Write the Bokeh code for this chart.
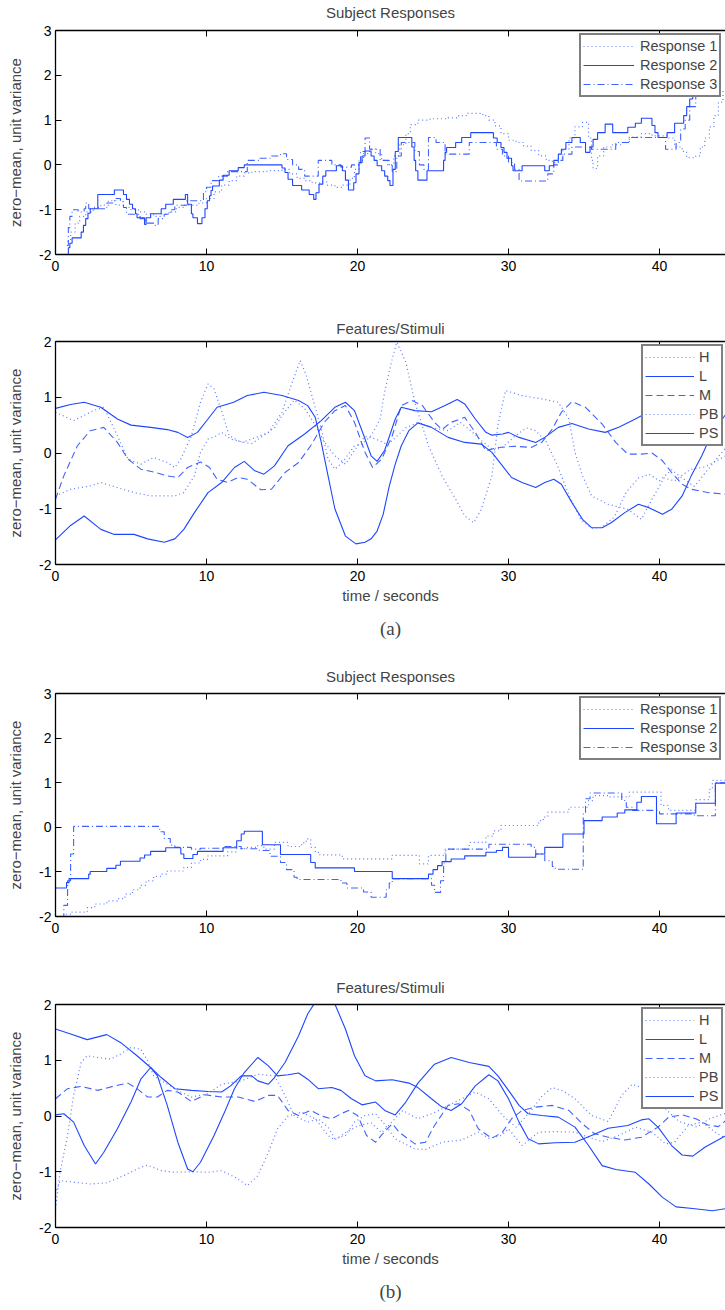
from bokeh.plotting import figure
from bokeh.models import (Range1d, LinearAxis, FixedTicker, Legend, LegendItem, Title,
                          CustomJSTickFormatter)
from bokeh.layouts import column
from bokeh.embed import file_html
from bokeh.resources import INLINE

# ---------------- data: (a) Subject Responses ----------------
a_resp1_t = [0.8, 1.0, 1.3, 1.6, 2.0, 2.5, 3.0, 3.5, 4.0, 4.5, 5.0, 5.5, 6.0, 6.5, 7.0, 7.5, 8.0, 8.5, 9.0, 9.5,
             10.0, 10.5, 11.0, 11.5, 12.0, 12.5, 13.0, 14.0, 15.0, 15.5, 16.0, 16.5, 17.0, 17.5, 18.0, 18.5, 19.0,
             19.5, 19.8, 20.1, 20.4, 20.8, 21.2, 21.6, 22.0, 22.4, 22.8, 23.2, 23.5, 24.0, 24.8, 26.0, 26.7, 27.2,
             28.3, 28.7, 29.1, 29.5, 30.0, 30.5, 31.0, 31.5, 32.0, 32.5, 32.9, 33.3, 33.6, 34.0, 34.4, 34.9, 35.3,
             35.5, 35.6, 35.9, 36.3, 36.8, 37.5, 38.0, 38.8, 39.5, 40.5, 41.0, 41.5, 41.8, 42.4, 42.7, 43.0, 43.3,
             43.6, 43.9, 44.2]
a_resp1_y = [-1.7, -1.5, -1.3, -1.15, -1.05, -0.95, -0.9, -0.8, -0.9, -0.95, -1.0, -1.05, -1.1, -1.15, -1.1, -1.05,
             -0.95, -0.9, -0.9, -0.85, -0.75, -0.6, -0.45, -0.35, -0.25, -0.18, -0.15, -0.13, -0.1, -0.2, -0.3,
             -0.35, -0.4, -0.38, -0.45, -0.5, -0.45, -0.3, -0.1, 0.1, 0.25, 0.35, 0.25, 0.1, 0.0, 0.2, 0.45, 0.7,
             0.9, 1.0, 1.03, 1.05, 1.1, 1.15, 1.1, 1.0, 0.87, 0.7, 0.55, 0.5, 0.42, 0.32, 0.2, 0.1, 0.05, 0.15,
             0.35, 0.6, 0.85, 0.95, 0.6, 0.1, -0.08, 0.2, 0.4, 0.45, 0.5, 0.62, 0.7, 0.65, 0.6, 0.4, 0.3, 0.16,
             0.2, 0.4, 0.6, 0.85, 1.1, 1.4, 1.65]

a_resp2_t = [0.75, 0.85, 0.95, 1.1, 1.7, 1.85, 2.0, 2.15, 2.3, 2.8, 3.9, 4.5, 4.7, 4.9, 5.1, 5.3, 5.4, 5.9, 6.0,
             6.3, 7.0, 7.3, 7.8, 8.6, 8.75, 9.0, 9.1, 9.4, 9.7, 9.9, 10.05, 10.2, 10.3, 10.4, 10.85, 11.1, 11.5,
             12.1, 12.5, 15.0, 15.2, 15.4, 15.7, 16.3, 16.8, 17.1, 17.25, 17.45, 17.7, 17.9, 18.6, 19.0, 19.2,
             19.4, 19.75, 19.9, 20.1, 20.3, 20.5, 20.9, 21.1, 21.3, 21.6, 21.8, 22.0, 22.15, 22.35, 22.5, 22.7,
             23.6, 23.75, 23.85, 24.0, 24.6, 25.7, 25.8, 25.9, 26.5, 26.9, 27.5, 29.0, 29.25, 29.5, 29.7, 29.9,
             30.2, 30.3, 30.9, 32.4, 32.7, 33.0, 33.3, 33.5, 33.8, 34.2, 34.75, 35.1, 35.4, 35.6, 35.9, 36.4,
             36.9, 37.9, 38.4, 38.8, 39.5, 39.7, 39.9, 40.5, 41.0, 41.6, 41.8, 42.0, 42.2, 42.4, 42.6, 42.9]
a_resp2_y = [-2.0, -1.85, -1.75, -1.63, -1.5, -1.35, -1.2, -1.08, -0.98, -0.66, -0.56, -0.66, -0.77, -0.88, -0.98,
             -1.09, -1.18, -1.33, -1.18, -1.09, -0.98, -0.88, -0.77, -0.66, -0.88, -1.09, -1.18, -1.31, -1.18,
             -0.98, -0.8, -0.69, -0.57, -0.47, -0.34, -0.23, -0.13, -0.06, 0.0, -0.07, -0.17, -0.32, -0.46, -0.56,
             -0.66, -0.77, -0.62, -0.43, -0.25, -0.13, -0.02, -0.13, -0.34, -0.56, -0.4, -0.2, 0.05, 0.2, 0.31,
             0.2, 0.1, -0.02, -0.13, -0.25, -0.35, -0.46, -0.1, 0.3, 0.61, 0.4, 0.1, -0.13, -0.34, -0.13, 0.1,
             0.28, 0.39, 0.5, 0.61, 0.72, 0.6, 0.5, 0.39, 0.28, 0.15, -0.02, -0.13, -0.02, -0.13, -0.02, 0.1,
             0.24, 0.35, 0.5, 0.61, 0.5, 0.28, 0.4, 0.57, 0.72, 0.91, 0.72, 0.84, 0.93, 1.04, 0.88, 0.72, 0.61,
             0.72, 0.93, 1.1, 1.3, 1.47, 1.6, 1.75, 1.9, 1.9]

a_resp3_t = [0.75, 0.85, 0.95, 1.1, 1.5, 1.9, 2.0, 2.2, 3.4, 3.9, 4.3, 4.5, 4.7, 5.6, 6.0, 6.6, 6.8, 7.2, 7.6,
             7.9, 8.7, 9.8, 10.0, 10.3, 10.8, 11.4, 12.7, 13.5, 14.3, 14.9, 15.3, 15.7, 16.1, 16.5, 17.4, 18.3,
             18.9, 19.6, 20.2, 20.5, 20.8, 21.5, 22.1, 22.3, 22.6, 22.9, 23.8, 24.1, 24.4, 24.7, 25.2, 25.8,
             27.4, 29.2, 29.6, 30.0, 30.4, 30.7, 32.6, 33.0, 33.3, 33.6, 34.2, 35.5, 37.1, 38.0, 40.4, 41.1,
             41.4, 41.7, 42.0, 42.4, 42.8]
a_resp3_y = [-1.8, -1.4, -1.15, -1.0, -1.05, -0.98, -0.85, -0.98, -0.85, -0.75, -0.82, -0.95, -1.1, -1.2, -1.3,
             -1.35, -1.2, -1.1, -1.0, -0.9, -0.8, -0.6, -0.5, -0.35, -0.25, -0.15, 0.1, 0.15, 0.2, 0.25, 0.12,
             0.0, -0.1, -0.25, 0.1, 0.0, -0.05, 0.0, 0.3, 0.6, 0.35, 0.1, 0.0, -0.15, 0.2, 0.5, 0.3, 0.0, -0.1,
             0.61, 0.5, 0.24, 0.5, 0.35, 0.2, 0.05, -0.1, -0.36, -0.2, 0.0, 0.1, 0.24, 0.4, 0.35, 0.5, 0.61, 0.35,
             0.5, 0.8, 1.0, 1.3, 1.6, 1.9]

# ---------------- data: (a) Features/Stimuli ----------------
a_L_t = [0, 1.0, 1.9, 3.0, 4.1, 5.0, 6.3, 7.4, 8.1, 8.75, 9.4, 10.1, 10.7, 11.8, 12.7, 13.8, 15.0, 16.1, 16.7,
         17.2, 17.6, 18.05, 18.5, 19.2, 19.9, 20.5, 20.9, 21.3, 21.7, 22.1, 22.5, 22.9, 23.4, 24.0, 24.9, 26.0,
         27.1, 28.2, 28.9, 29.6, 30.2, 30.9, 31.8, 32.4, 33.0, 33.5, 34.2, 34.9, 35.5, 36.2, 36.8, 37.7, 38.6,
         39.3, 40.2, 40.8, 41.5, 42.1, 42.8, 43.2, 43.7, 44.4]
a_L_y = [0.8, 0.87, 0.91, 0.82, 0.61, 0.5, 0.46, 0.42, 0.37, 0.28, 0.37, 0.61, 0.82, 0.91, 1.03, 1.09, 1.03, 0.94,
         0.85, 0.64, 0.19, -0.41, -1.0, -1.49, -1.63, -1.6, -1.54, -1.4, -1.1, -0.6, -0.2, 0.13, 0.4, 0.54, 0.46,
         0.28, 0.19, 0.16, 0.01, -0.23, -0.44, -0.53, -0.62, -0.53, -0.47, -0.56, -0.89, -1.19, -1.34, -1.34,
         -1.25, -1.07, -0.92, -0.98, -1.1, -1.01, -0.77, -0.41, -0.05, 0.19, 0.43, 0.7]

a_PS_t = [0, 1.0, 1.9, 3.0, 3.9, 5.2, 6.1, 7.2, 7.9, 8.5, 9.2, 10.1, 11.0, 11.85, 12.5, 13.2, 13.8, 14.5, 15.4,
          16.5, 17.6, 18.5, 19.2, 19.8, 20.5, 20.9, 21.3, 21.8, 22.5, 22.9, 23.8, 24.9, 25.8, 26.6, 27.1, 27.8,
          28.5, 28.9, 29.6, 30.0, 30.7, 31.8, 32.4, 33.3, 34.2, 35.3, 36.4, 37.3, 38.4, 38.8, 39.5, 40.5]
a_PS_y = [-1.56, -1.3, -1.13, -1.37, -1.46, -1.46, -1.54, -1.6, -1.54, -1.37, -1.07, -0.71, -0.53, -0.26, -0.15,
          -0.32, -0.38, -0.23, 0.13, 0.34, 0.58, 0.82, 0.91, 0.76, 0.25, -0.05, -0.15, 0.05, 0.61, 0.82, 0.76,
          0.74, 0.85, 0.96, 0.88, 0.61, 0.37, 0.32, 0.34, 0.37, 0.28, 0.19, 0.28, 0.46, 0.53, 0.43, 0.37, 0.46,
          0.61, 0.67, 0.7, 0.7]

a_M_t = [0, 0.55, 1.45, 2.3, 3.2, 4.1, 4.8, 5.65, 6.5, 7.4, 8.1, 8.75, 9.6, 10.2, 10.7, 11.4, 12.1, 12.7, 13.6,
         14.3, 15.2, 16.1, 16.9, 17.8, 18.5, 19.2, 19.8, 20.5, 21.0, 21.6, 22.3, 22.9, 23.6, 24.3, 25.1, 25.6,
         26.2, 27.1, 27.8, 28.5, 29.3, 30.4, 31.5, 32.2, 32.9, 33.5, 34.2, 35.1, 36.2, 37.1, 37.9, 38.8, 39.5,
         40.2, 40.8, 41.5, 42.1, 43.2, 44.4]
a_M_y = [-0.83, -0.41, 0.13, 0.4, 0.46, 0.19, -0.11, -0.29, -0.34, -0.41, -0.44, -0.26, -0.16, -0.26, -0.47, -0.53,
         -0.44, -0.47, -0.66, -0.65, -0.35, -0.17, 0.13, 0.55, 0.76, 0.85, 0.55, 0.01, -0.26, -0.11, 0.31, 0.85,
         0.94, 0.85, 0.55, 0.42, 0.55, 0.64, 0.37, 0.04, 0.1, 0.12, 0.1, 0.19, 0.43, 0.73, 0.92, 0.82, 0.52,
         0.19, -0.02, -0.02, 0.0, -0.14, -0.35, -0.56, -0.65, -0.71, -0.74]

a_H_t = [0, 1.2, 2.5, 3.2, 4.1, 4.8, 5.65, 6.5, 7.4, 7.9, 8.3, 9.0, 9.6, 10.1, 10.5, 11.1, 11.5, 12.3, 13.0, 14.1,
         15.0, 15.6, 16.2, 16.6, 17.1, 17.6, 18.05, 18.5, 19.0, 19.8, 20.3, 20.9, 21.5, 21.8, 22.3, 22.6, 23.2,
         23.8, 24.7, 25.6, 26.5, 27.1, 27.7, 28.2, 28.9, 29.3, 29.8, 30.9, 32.2, 33.3, 34.0, 34.4, 34.9, 35.5,
         36.6, 37.9, 38.8, 39.5, 40.3, 41.0, 42.0, 43.0, 44.4]
a_H_y = [0.73, 0.58, 0.76, 0.82, 0.31, -0.11, -0.2, -0.08, -0.17, -0.26, -0.11, 0.31, 0.91, 1.24, 1.15, 0.67,
         0.31, 0.19, 0.25, 0.37, 0.73, 1.21, 1.66, 1.4, 0.91, 0.43, -0.11, -0.29, -0.17, 0.13, 0.16, 0.31, 0.61,
         1.1, 1.69, 1.99, 1.63, 0.91, 0.13, -0.41, -0.83, -1.13, -1.25, -1.01, -0.41, 0.5, 1.12, 1.03, 0.97,
         0.91, 0.61, 0.01, -0.41, -0.77, -0.92, -1.01, -1.19, -0.83, -0.45, -0.5, -0.3, -0.25, -0.05]

a_PB_t = [0, 1.0, 2.3, 3.0, 4.1, 5.2, 6.3, 7.9, 8.5, 9.2, 9.6, 10.1, 10.6, 11.0, 11.6, 12.3, 13.0, 13.7, 14.5,
          15.0, 15.8, 16.5, 17.2, 17.8, 18.5, 19.2, 19.8, 20.5, 21.2, 22.0, 22.6, 23.2, 24.0, 25.0, 26.0, 26.8,
          27.5, 28.3, 29.0, 29.6, 30.4, 31.2, 31.8, 32.5, 33.2, 34.0, 34.8, 35.5, 36.2, 37.0, 37.8, 38.6, 39.3,
          40.0, 40.8, 41.5, 42.3, 43.2, 44.4]
a_PB_y = [-0.77, -0.65, -0.59, -0.53, -0.62, -0.71, -0.77, -0.77, -0.71, -0.41, 0.01, 0.25, 0.3, 0.37, 0.25,
          0.2, 0.17, 0.3, 0.45, 0.67, 0.95, 0.8, 0.5, 0.2, -0.05, -0.2, 0.05, 0.3, 0.25, 0.15, 0.3, 0.45, 0.55,
          0.45, 0.4, 0.55, 0.4, 0.2, 0.05, 0.1, 0.3, 0.45, 0.4, 0.2, -0.2, -0.75, -1.2, -1.35, -1.33, -1.15,
          -0.7, -0.45, -0.38, -0.5, -0.3, -0.45, -0.6, -0.3, 0.1]

# ---------------- data: (b) Subject Responses ----------------
b_resp1_t = [0.3, 0.6, 1.0, 2.1, 2.6, 3.4, 4.1, 4.6, 5.1, 5.6, 6.0, 6.5, 7.0, 7.4, 8.5, 9.0, 9.6, 10.1, 11.4,
             12.0, 12.7, 13.4, 13.8, 14.5, 15.4, 16.3, 16.6, 16.9, 17.2, 17.5, 19.0, 22.3, 24.1, 24.7, 25.8, 27.4,
             28.5, 29.0, 29.5, 32.0, 32.3, 32.6, 34.0, 35.3, 35.6, 36.6, 38.0, 40.1, 40.6, 42.4, 43.3, 43.5, 44.4]
b_resp1_y = [-2.0, -1.95, -1.9, -1.8, -1.72, -1.65, -1.6, -1.5, -1.4, -1.3, -1.2, -1.1, -1.05, -0.98, -0.9, -0.8,
             -0.72, -0.64, -0.55, -0.48, -0.45, -0.41, -0.49, -0.34, -0.43, -0.35, -0.26, -0.45, -0.56, -0.62,
             -0.71, -0.63, -0.82, -0.63, -0.49, -0.34, -0.2, -0.08, 0.04, 0.15, 0.23, 0.34, 0.45, 0.6, 0.71, 0.68,
             0.79, 0.49, 0.38, 0.62, 0.85, 1.05, 1.05]

b_resp2_t = [0.0, 0.73, 0.9, 2.2, 2.3, 3.4, 4.0, 4.3, 5.6, 5.9, 6.3, 7.3, 8.3, 8.5, 9.1, 9.4, 11.1, 12.0, 12.3,
             12.5, 13.7, 14.9, 16.9, 17.2, 19.8, 22.3, 24.7, 25.0, 25.3, 25.6, 26.2, 27.1, 28.5, 29.2, 29.6, 30.0,
             31.8, 32.4, 33.6, 35.0, 36.2, 37.2, 37.7, 38.5, 38.8, 39.8, 41.1, 42.4, 43.7, 44.4]
b_resp2_y = [-1.36, -1.24, -1.15, -1.05, -0.99, -0.92, -0.85, -0.76, -0.69, -0.62, -0.54, -0.46, -0.6, -0.7, -0.61,
             -0.54, -0.46, -0.3, -0.15, -0.09, -0.39, -0.61, -0.79, -0.91, -0.99, -1.15, -1.05, -0.95, -0.86, -0.77,
             -0.71, -0.64, -0.56, -0.52, -0.45, -0.67, -0.6, -0.45, -0.15, 0.15, 0.23, 0.32, 0.39, 0.56, 0.69, 0.08,
             0.32, 0.54, 0.99, 0.99]

b_resp3_t = [0.3, 0.55, 0.8, 1.0, 1.2, 6.9, 7.2, 7.6, 7.9, 9.0, 9.6, 11.2, 12.3, 13.5, 14.2, 14.9, 15.3, 15.8,
             16.0, 18.9, 19.3, 20.4, 20.9, 21.9, 22.1, 22.3, 24.9, 25.1, 25.5, 25.7, 25.85, 28.7, 31.5, 31.8, 32.4,
             32.9, 33.1, 34.95, 35.1, 35.4, 37.5, 37.8, 38.2, 40.0, 42.3, 43.7, 44.4]
b_resp3_y = [-2.0, -1.75, -1.2, -0.6, 0.02, -0.1, -0.25, -0.4, -0.45, -0.49, -0.47, -0.43, -0.48, -0.52, -0.65,
             -0.79, -0.95, -1.12, -1.17, -1.25, -1.36, -1.45, -1.57, -1.4, -1.25, -1.15, -1.3, -1.46, -1.2, -0.8,
             -0.49, -0.38, -0.45, -0.6, -0.75, -0.88, -0.94, 0.3, 0.64, 0.77, 0.6, 0.45, 0.38, 0.3, 0.26, 1.0, 1.0]

# ---------------- data: (b) Features/Stimuli ----------------
b_L_t = [0, 1.0, 2.1, 3.4, 4.3, 5.4, 6.3, 7.0, 7.9, 9.0, 10.1, 11.0, 11.6, 12.3, 13.0, 13.4, 14.1, 14.5, 15.2,
         16.1, 16.7, 17.2, 17.8, 18.5, 19.2, 19.8, 20.5, 21.2, 22.3, 23.4, 24.0, 24.9, 25.6, 26.2, 26.9, 27.8,
         28.7, 29.3, 30.0, 30.7, 31.3, 32.0, 33.1, 34.4, 35.5, 36.6, 37.9, 38.8, 39.3, 39.9, 40.8, 41.5, 42.2,
         43.0, 44.4]
b_L_y = [1.56, 1.47, 1.37, 1.46, 1.32, 1.08, 0.87, 0.69, 0.49, 0.46, 0.44, 0.43, 0.54, 0.72, 0.72, 0.63, 0.57,
         0.69, 0.96, 1.44, 1.83, 2.04, 2.12, 2.01, 1.56, 1.08, 0.72, 0.63, 0.65, 0.59, 0.51, 0.31, 0.16, 0.1,
         0.22, 0.54, 0.74, 0.63, 0.31, -0.11, -0.41, -0.5, -0.48, -0.47, -0.35, -0.22, -0.17, -0.07, -0.05,
         -0.2, -0.53, -0.7, -0.72, -0.56, -0.35]

b_PS_t = [0, 0.55, 1.2, 1.9, 2.65, 3.2, 4.1, 5.0, 5.65, 6.3, 6.75, 7.4, 8.1, 8.75, 9.1, 9.6, 10.5, 11.2, 11.85,
          12.5, 13.4, 14.1, 14.7, 15.4, 16.1, 16.7, 17.4, 18.3, 18.9, 19.6, 20.3, 21.2, 21.8, 22.5, 23.2, 24.0,
          25.1, 26.2, 27.4, 28.7, 29.3, 30.0, 30.7, 31.3, 32.2, 33.3, 34.4, 35.3, 36.2, 37.1, 38.4, 39.3, 40.2,
          41.1, 42.2, 43.5, 44.4]
b_PS_y = [0.02, 0.04, -0.11, -0.53, -0.86, -0.65, -0.23, 0.25, 0.66, 0.87, 0.72, 0.19, -0.47, -0.95, -1.0, -0.83,
          -0.35, 0.07, 0.49, 0.78, 1.05, 0.9, 0.72, 0.74, 0.77, 0.66, 0.49, 0.51, 0.46, 0.31, 0.2, 0.25, 0.1, 0.02,
          0.25, 0.59, 0.93, 1.05, 0.96, 0.89, 0.72, 0.46, 0.19, 0.04, 0.01, -0.02, -0.2, -0.53, -0.89, -0.96,
          -1.01, -1.22, -1.46, -1.63, -1.66, -1.7, -1.66]

b_M_t = [0, 0.8, 1.7, 2.8, 3.9, 4.8, 5.4, 6.1, 6.75, 7.4, 8.1, 9.0, 9.9, 11.0, 12.1, 13.2, 14.1, 14.7, 15.4,
         16.1, 16.9, 17.6, 18.3, 18.9, 19.4, 20.0, 20.6, 21.2, 21.6, 22.3, 22.8, 23.8, 24.5, 25.1, 26.0, 26.7,
         27.4, 28.0, 28.9, 29.6, 30.2, 30.9, 31.8, 32.9, 34.0, 34.9, 35.7, 36.6, 37.7, 38.8, 39.9, 40.6, 41.5,
         42.4, 43.2, 43.9, 44.4]
b_M_y = [0.31, 0.49, 0.53, 0.46, 0.54, 0.59, 0.49, 0.34, 0.34, 0.46, 0.43, 0.26, 0.38, 0.34, 0.34, 0.26, 0.37,
         0.37, 0.1, 0.01, 0.1, 0.0, -0.05, 0.04, 0.1, 0.01, -0.35, -0.47, -0.34, -0.14, -0.3, -0.5, -0.47, -0.17,
         0.19, 0.22, 0.1, -0.23, -0.4, -0.29, -0.05, 0.1, 0.16, 0.19, 0.1, -0.14, -0.32, -0.38, -0.43, -0.38,
         -0.2, -0.02, 0.02, -0.05, -0.16, -0.19, -0.08]

b_H_t = [0, 0.3, 0.8, 1.2, 1.7, 2.1, 2.8, 3.65, 4.3, 5.0, 5.65, 6.1, 6.5, 7.2, 8.3, 9.0, 10.1, 11.0, 12.3, 13.4,
         14.5, 15.2, 15.8, 16.7, 17.4, 18.05, 18.5, 19.2, 19.8, 20.5, 21.2, 21.8, 22.5, 23.8, 24.5, 25.6, 26.9,
         28.0, 28.7, 29.5, 30.0, 30.9, 32.0, 33.1, 34.4, 35.3, 36.2, 37.3, 38.4, 39.5, 40.4, 41.0, 41.9, 42.8,
         43.7, 44.4]
b_H_y = [-1.67, -1.01, -0.35, 0.37, 0.96, 1.08, 1.05, 1.02, 1.11, 1.23, 1.2, 0.99, 0.72, 0.6, 0.43, 0.34, 0.4,
         0.57, 0.63, 0.75, 0.72, 0.37, 0.01, -0.11, -0.05, -0.2, -0.41, -0.35, -0.11, 0.01, 0.04, -0.15, -0.41,
         -0.59, -0.6, -0.47, -0.43, -0.29, -0.4, -0.35, -0.23, -0.53, -0.29, -0.28, -0.29, -0.38, -0.46, -0.35,
         -0.2, -0.29, -0.5, -0.47, -0.17, -0.11, -0.29, -0.41]

b_PB_t = [0, 0.3, 2.3, 3.4, 4.5, 5.65, 6.1, 7.0, 7.9, 9.0, 10.1, 11.0, 11.9, 12.7, 13.4, 14.1, 14.7, 15.4, 16.3,
          17.2, 18.05, 18.5, 19.2, 20.0, 20.9, 21.6, 22.3, 23.0, 24.0, 25.0, 25.6, 26.9, 27.8, 28.7, 29.6, 30.5,
          31.5, 32.2, 32.9, 33.6, 34.4, 35.5, 36.6, 37.5, 38.2, 39.0, 39.8, 40.5, 41.3, 42.5, 43.3, 44.4]
b_PB_y = [-1.4, -1.16, -1.22, -1.2, -1.07, -0.92, -0.88, -0.98, -1.01, -1.0, -1.01, -0.98, -1.1, -1.25, -1.07,
          -0.65, -0.23, 0.0, 0.07, -0.05, -0.35, -0.43, -0.3, -0.18, -0.12, -0.3, -0.1, 0.1, -0.05, 0.05, 0.13,
          0.31, 0.43, 0.31, 0.01, -0.2, 0.1, 0.35, 0.51, 0.45, 0.31, 0.01, -0.1, 0.37, 0.57, 0.49, 0.3, 0.1,
          -0.1, -0.2, -0.05, 0.05]

resp_labels = ["Response 1", "Response 2", "Response 3"]
feat_labels = ["H", "L", "M", "PB", "PS"]
x_ticks = [0, 10, 20, 30, 40]

# ---------------- styling ----------------
BLUE = "#1e46ff"
LIGHT = "#5a78ff"
FONT = "Liberation Sans"
X_END = 44.37
DOT = "1 3"
DASHDOT = "7 3 1 3"
DASH = "7 4"


def make_fig(height, top, bottom, y0, y1, title, title_standoff, spacer):
    p = figure(width=725, height=height, x_range=Range1d(0, X_END), y_range=Range1d(y0, y1),
               output_backend="svg", toolbar_location=None, x_axis_location=None, y_axis_location=None,
               min_border_left=55, min_border_right=0, min_border_top=top, min_border_bottom=bottom,
               title=title)
    p.center = []
    p.outline_line_color = None
    p.background_fill_color = "white"
    p.border_fill_color = "white"
    p.title.align = "center"
    p.title.vertical_align = "top"
    p.title.text_font = FONT
    p.title.text_font_size = "15px"
    p.title.text_font_style = "normal"
    p.title.offset = 3
    p.title.standoff = title_standoff

    fmt = CustomJSTickFormatter(code="return tick.toFixed(0);")
    common = dict(axis_line_color="black", axis_line_width=1.3, major_tick_line_color="black",
                  major_tick_line_width=1.0, major_tick_in=6, major_tick_out=0, minor_tick_line_color=None,
                  major_label_text_font=FONT, formatter=fmt)
    left = LinearAxis(ticker=FixedTicker(ticks=list(range(y0, y1 + 1))), axis_label="zero\u2212mean, unit variance",
                      axis_label_text_font=FONT, axis_label_text_font_size="15px",
                      axis_label_text_font_style="normal", axis_label_standoff=12,
                      major_label_standoff=4, major_label_text_font_size="14px",
                      major_label_text_color="black", **common)
    p.add_layout(left, "left")
    below = LinearAxis(ticker=FixedTicker(ticks=x_ticks), major_label_standoff=6,
                       major_label_text_font_size="14px", major_label_text_color="black",
                       axis_label_text_font=FONT, axis_label_text_font_size="15px",
                       axis_label_text_font_style="normal", axis_label_standoff=3, **common)
    p.add_layout(below, "below")
    # top border of the box, with inward ticks (labels hidden)
    above = LinearAxis(ticker=FixedTicker(ticks=x_ticks), major_label_text_font_size="1px",
                       major_label_text_color=None, major_label_standoff=0, **common)
    p.add_layout(above, "above")
    if spacer > 0:
        # invisible axis that only reserves room between the box and the title
        gap = LinearAxis(ticker=FixedTicker(ticks=x_ticks), axis_line_color=None, major_tick_line_color=None,
                         minor_tick_line_color=None, major_tick_in=0, major_tick_out=spacer,
                         major_label_text_color=None, major_label_text_font_size="1px",
                         major_label_standoff=0, formatter=fmt)
        p.add_layout(gap, "above")
    return p, below


def add_legend(p, items, loc, gw, standoff):
    leg = Legend(items=items, location=loc, label_text_font=FONT, label_text_font_size="14.5px",
                 label_height=18, glyph_height=18, glyph_width=gw, spacing=1, padding=2, margin=0,
                 label_standoff=standoff, border_line_color="black", border_line_width=2,
                 background_fill_color="white", background_fill_alpha=1.0)
    p.add_layout(leg, "center")


def response_panel(height, top, bottom, r1t, r1y, r2t, r2y, r3t, r3y, legend_y, ts, sp):
    p, _ = make_fig(height, top, bottom, -2, 3, "Subject Responses", ts, sp)
    g1 = p.step(r1t, r1y, mode="after", line_color=LIGHT, line_width=1.2, line_dash=DOT)
    g2 = p.step(r2t, r2y, mode="after", line_color=BLUE, line_width=1.1)
    g3 = p.step(r3t, r3y, mode="after", line_color=BLUE, line_width=1.1, line_dash=DASHDOT, line_alpha=0.85)
    items = [LegendItem(label=l, renderers=[g]) for l, g in zip(resp_labels, [g1, g2, g3])]
    add_legend(p, items, (524, legend_y), 51, 6)
    return p


def feature_panel(height, top, bottom, H, L, M, PB, PS, legend_y, sub, ts, sp):
    p, below = make_fig(height, top, bottom, -2, 2, "Features/Stimuli", ts, sp)
    below.axis_label = "time / seconds"
    gH = p.line(H[0], H[1], line_color=LIGHT, line_width=1.2, line_dash=DOT)
    gL = p.line(L[0], L[1], line_color=BLUE, line_width=1.1)
    gM = p.line(M[0], M[1], line_color=BLUE, line_width=1.1, line_dash=DASH, line_alpha=0.85)
    gPB = p.line(PB[0], PB[1], line_color=LIGHT, line_width=1.2, line_dash=DOT)
    gPS = p.line(PS[0], PS[1], line_color=BLUE, line_width=1.1)
    items = [LegendItem(label=l, renderers=[g]) for l, g in zip(feat_labels, [gH, gL, gM, gPB, gPS])]
    add_legend(p, items, (586, legend_y), 49, 5)
    t = Title(text=sub, align="center", text_font="Liberation Serif", text_font_size="19px",
              text_font_style="normal", offset=-22, standoff=18)
    p.add_layout(t, "below")
    return p


p1 = response_panel(310, 30, 56, a_resp1_t, a_resp1_y, a_resp2_t, a_resp2_y, a_resp3_t, a_resp3_y, 157, 2, 7)
p2 = feature_panel(340, 31, 86, (a_H_t, a_H_y), (a_L_t, a_L_y), (a_M_t, a_M_y), (a_PB_t, a_PB_y),
                   (a_PS_t, a_PS_y), 118, "(a)", 6, 0)
p3 = response_panel(310, 43, 44, b_resp1_t, b_resp1_y, b_resp2_t, b_resp2_y, b_resp3_t, b_resp3_y, 156, 14, 0)
p4 = feature_panel(350, 44, 83, (b_H_t, b_H_y), (b_L_t, b_L_y), (b_M_t, b_M_y), (b_PB_t, b_PB_y),
                   (b_PS_t, b_PS_y), 118, "(b)", 14, 0)

layout = column(p1, p2, p3, p4, spacing=0)
open("out.html", "w").write(file_html(layout, INLINE))
